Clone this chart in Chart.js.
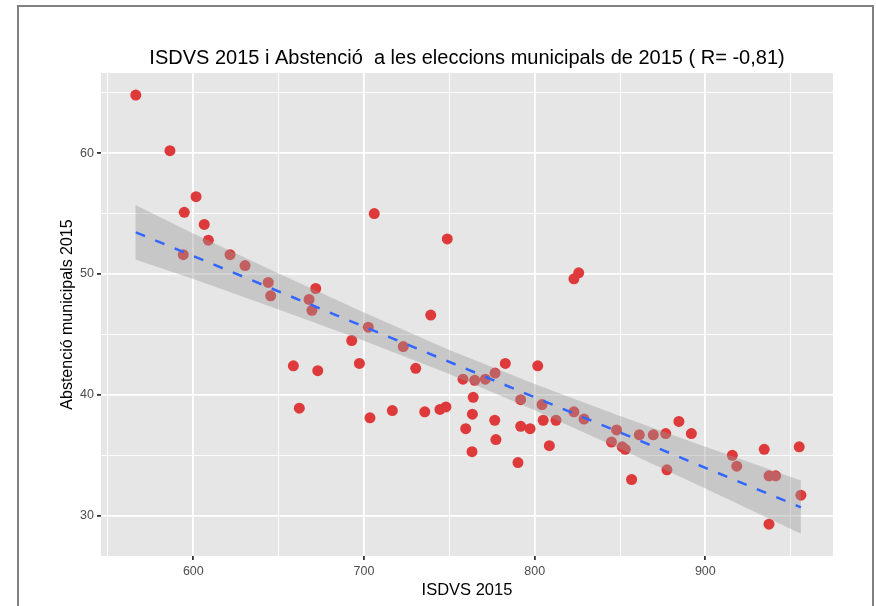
<!DOCTYPE html>
<html>
<head>
<meta charset="utf-8">
<title>ISDVS 2015 i Abstenció</title>
<script src="https://cdn.jsdelivr.net/npm/chart.js@4.4.1/dist/chart.umd.min.js"></script>
<style>
    html, body { margin: 0; padding: 0; background: #ffffff; }
    #wrap { width: 876px; height: 606px; position: relative; }
</style>
</head>
<body>
<div id="wrap"><canvas id="scatterChart"></canvas></div>
<script>
// Data
const isdvs = [
    566.3, 586.3, 601.6, 594.7, 606.4, 608.8, 594.1, 621.5, 630.3, 643.9,
    645.3, 671.7, 667.8, 669.5, 692.8, 658.6, 672.9, 662.1, 697.3, 706.0,
    748.8, 823.0, 825.8, 739.1, 702.5, 723.0, 730.3, 782.8, 801.8, 776.8,
    758.0, 764.9, 771.1, 764.0, 791.8, 804.3, 703.5, 716.6, 735.6, 744.5,
    748.0, 763.5, 776.6, 759.6, 791.8, 797.3, 805.0, 812.5, 777.3, 763.3,
    808.6, 790.2, 823.0, 828.9, 845.0, 848.0, 851.3, 853.1, 856.8, 861.3,
    869.5, 876.8, 884.5, 891.8, 877.5, 915.8, 918.4, 934.5, 937.3, 941.2,
    937.3, 955.0, 956.0
];
const abstencio = [
    64.8, 60.2, 56.4, 55.1, 54.1, 52.8, 51.6, 51.6, 50.7, 49.3,
    48.2, 48.8, 47.9, 47.0, 44.5, 42.4, 42.0, 38.9, 42.6, 55.0,
    52.9, 49.6, 50.1, 46.6, 45.6, 44.0, 42.2, 42.6, 42.4, 41.8,
    41.3, 41.2, 41.3, 39.8, 39.6, 39.2, 38.1, 38.7, 38.6, 38.8,
    39.0, 38.4, 37.9, 37.2, 37.4, 37.2, 37.9, 37.9, 36.3, 35.3,
    35.8, 34.4, 38.6, 38.0, 36.1, 37.1, 35.7, 35.5, 33.0, 36.7,
    36.7, 36.8, 37.8, 36.8, 33.8, 35.0, 34.1, 35.5, 33.3, 33.3,
    29.3, 35.7, 31.7
];

// Fitted line end points and confidence band
const fitX = [566.3, 956.0];
const fitY = [53.45, 30.7];
const bandX = [566, 600, 650, 700, 750, 800, 850, 900, 956];
const bandUpper = [55.7, 53.36, 50.04, 46.81, 43.72, 40.89, 38.25, 35.7, 32.92];
const bandLower = [51.2, 49.58, 47.06, 44.47, 41.72, 38.73, 35.55, 32.26, 28.52];

// Axes
const xGrid = [550, 600, 650, 700, 750, 800, 850, 900, 950];
const xLabels = [600, 700, 800, 900];
const yGrid = [30, 35, 40, 45, 50, 55, 60, 65];
const yLabels = [30, 40, 50, 60];

const titleText = 'ISDVS 2015 i Abstenció  a les eleccions municipals de 2015 ( R= -0,81)';
const xTitle = 'ISDVS 2015';
const yTitle = 'Abstenció municipals 2015';

const fontFamily = '"Liberation Sans", Arial, sans-serif';

function toPoints(xs, ys) {
    return xs.map((x, i) => ({ x: x, y: ys[i] }));
}

// Grey panel and outer frame
const panelPlugin = {
    id: 'panel',
    beforeDraw(chart) {
        const { ctx, chartArea } = chart;
        ctx.save();
        ctx.fillStyle = '#e6e6e6';
        ctx.fillRect(chartArea.left, chartArea.top,
            chartArea.right - chartArea.left, chartArea.bottom - chartArea.top);
        ctx.restore();
    },
    afterDraw(chart) {
        const ctx = chart.ctx;
        ctx.save();
        ctx.strokeStyle = '#808080';
        ctx.lineWidth = 2;
        ctx.strokeRect(18, 6, 855, 640);
        ctx.restore();
    }
};

function gridOptions(majors) {
    return {
        color: '#ffffff',
        lineWidth: ctx => majors.includes(ctx.tick.value) ? 1.8 : 0.9,
        tickColor: ctx => majors.includes(ctx.tick.value) ? '#333333' : 'rgba(0,0,0,0)',
        tickLength: 4,
        drawOnChartArea: true,
        drawTicks: true
    };
}

function setupChart() {
    const canvas = document.getElementById('scatterChart');
    const ctx = canvas.getContext('2d');

    new Chart(ctx, {
        type: 'scatter',
        data: {
            datasets: [
                {
                    label: 'fit',
                    type: 'line',
                    data: toPoints(fitX, fitY),
                    borderColor: '#3366ff',
                    borderWidth: 2.5,
                    borderDash: [10, 11],
                    pointRadius: 0,
                    fill: false,
                    order: 1
                },
                {
                    label: 'upper',
                    type: 'line',
                    data: toPoints(bandX, bandUpper),
                    borderWidth: 0,
                    borderColor: 'rgba(0,0,0,0)',
                    backgroundColor: 'rgba(153,153,153,0.4)',
                    pointRadius: 0,
                    fill: '+1',
                    order: 2
                },
                {
                    label: 'lower',
                    type: 'line',
                    data: toPoints(bandX, bandLower),
                    borderWidth: 0,
                    borderColor: 'rgba(0,0,0,0)',
                    pointRadius: 0,
                    fill: false,
                    order: 2
                },
                {
                    label: 'municipis',
                    data: toPoints(isdvs, abstencio),
                    backgroundColor: '#de3a3b',
                    borderColor: '#de3a3b',
                    borderWidth: 0,
                    pointRadius: 5.5,
                    order: 3
                }
            ]
        },
        options: {
            responsive: true,
            maintainAspectRatio: false,
            animation: false,
            layout: {
                padding: { left: 0, right: 43, top: 0, bottom: 0 }
            },
            plugins: {
                legend: { display: false },
                tooltip: { enabled: false },
                title: {
                    display: true,
                    fullSize: false,
                    text: titleText,
                    color: '#000000',
                    font: { family: fontFamily, size: 20, weight: 'normal' },
                    padding: { top: 46, bottom: 3 }
                }
            },
            scales: {
                x: {
                    type: 'linear',
                    min: 545.9,
                    max: 974.8,
                    afterBuildTicks: scale => {
                        scale.ticks = xGrid.map(v => ({ value: v }));
                    },
                    afterFit: scale => { scale.height = 50; },
                    grid: gridOptions(xLabels),
                    border: { display: false },
                    ticks: {
                        autoSkip: false,
                        maxRotation: 0,
                        padding: 4,
                        color: '#4d4d4d',
                        font: { family: fontFamily, size: 12.5 },
                        callback: value => xLabels.includes(value) ? String(value) : ''
                    },
                    title: {
                        display: true,
                        text: xTitle,
                        color: '#000000',
                        font: { family: fontFamily, size: 16.5 },
                        padding: { top: 0, bottom: 6 }
                    }
                },
                y: {
                    type: 'linear',
                    min: 26.67,
                    max: 66.63,
                    afterBuildTicks: scale => {
                        scale.ticks = yGrid.map(v => ({ value: v }));
                    },
                    afterFit: scale => { scale.width = 101; },
                    grid: gridOptions(yLabels),
                    border: { display: false },
                    ticks: {
                        autoSkip: false,
                        padding: 3,
                        color: '#4d4d4d',
                        font: { family: fontFamily, size: 12.5 },
                        callback: value => yLabels.includes(value) ? String(value) : ''
                    },
                    title: {
                        display: true,
                        text: yTitle,
                        color: '#000000',
                        font: { family: fontFamily, size: 16 },
                        padding: { top: 58, bottom: 0 }
                    }
                }
            }
        },
        plugins: [panelPlugin]
    });
}

setupChart();
</script>
</body>
</html>
